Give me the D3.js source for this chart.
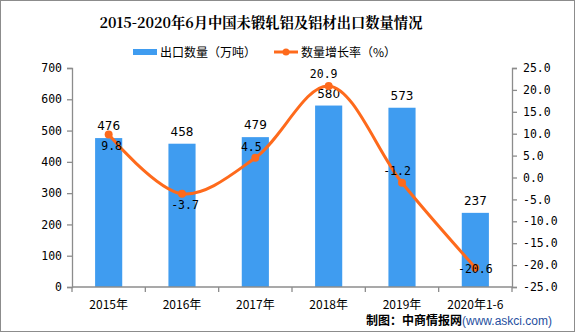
<!DOCTYPE html>
<html><head><meta charset="utf-8">
<script src="https://cdn.jsdelivr.net/npm/d3@7/dist/d3.min.js"></script>
<style>
html,body{margin:0;padding:0;background:#fff;}
svg{display:block;font-family:"Noto Sans CJK SC","DejaVu Sans",sans-serif;}
</style></head><body>
<svg id="c" width="576" height="333"></svg>
<script>
const categories = ["2015年","2016年","2017年","2018年","2019年","2020年1-6"];
const exportVolume = [476,458,479,580,573,237];
const growthRate = [9.8,-3.7,4.5,20.9,-1.2,-20.6];
const leftTicks = [0,100,200,300,400,500,600,700];
const rightTicks = [-25,-20,-15,-10,-5,0,5,10,15,20,25];
const rateLabelPlacement = ["below","below","aboveLeft","above","above","center"];

const svg = d3.select("#c");
const W = 576, H = 333;
const m = {l:72, r:64, t:68, b:46};
const x0 = m.l, x1 = W - m.r, y0 = H - m.b, y1 = m.t;

svg.append("rect").attr("x",0.5).attr("y",0.5).attr("width",574).attr("height",331)
  .attr("fill","#fff").attr("stroke","#8c8c8c").attr("stroke-width",1);

svg.append("text").attr("x",261).attr("y",28).attr("text-anchor","middle")
  .attr("font-size",14.3).attr("font-weight","bold").attr("fill","#000")
  .attr("font-family","'Noto Serif CJK SC','Noto Sans CJK SC',serif")
  .text("2015-2020年6月中国未锻轧铝及铝材出口数量情况");

// legend
const lg = svg.append("g").attr("font-size",12).attr("fill","#000");
lg.append("rect").attr("x",133).attr("y",49).attr("width",24).attr("height",6).attr("fill","#3f9cf0");
lg.append("text").attr("x",160).attr("y",57).text("出口数量（万吨）");
lg.append("line").attr("x1",274).attr("x2",298).attr("y1",52).attr("y2",52).attr("stroke","#fe6a1c").attr("stroke-width",3);
lg.append("circle").attr("cx",286).attr("cy",52).attr("r",3.5).attr("fill","#fe6a1c");
lg.append("text").attr("x",301).attr("y",57).text("数量增长率（%）");

const x = d3.scaleBand().domain(categories).range([x0,x1]).paddingInner(0.63).paddingOuter(0.315);
const xb = d3.scaleBand().domain(categories).range([x0,x1]);
const yL = d3.scaleLinear().domain([0,700]).range([y0,y1]);
const yR = d3.scaleLinear().domain([-25,25]).range([y0,y1]);

const axisColor = "#8c8c8c";
const gl = svg.append("g").attr("transform",`translate(${x0},0)`)
  .call(d3.axisLeft(yL).tickValues(leftTicks).tickSize(5).tickPadding(5).tickFormat(d3.format("d")));
const gr = svg.append("g").attr("transform",`translate(${x1},0)`)
  .call(d3.axisRight(yR).tickValues(rightTicks).tickSize(5).tickPadding(6).tickFormat(d=>d3.format(".1f")(d).replace("−","-")));
[gl,gr].forEach(g=>{
  g.select(".domain").attr("stroke",axisColor).attr("stroke-width",1.3);
  g.selectAll(".tick line").attr("stroke",axisColor).attr("stroke-width",1.3);
  g.selectAll("text").attr("fill","#000").attr("font-family","'DejaVu Sans Mono','Liberation Mono',monospace").attr("font-size",11.5);
});

// bars
svg.append("g").selectAll("rect").data(categories).join("rect")
  .attr("x",d=>x(d)).attr("width",x.bandwidth())
  .attr("y",(d,i)=>yL(exportVolume[i])).attr("height",(d,i)=>y0-yL(exportVolume[i]))
  .attr("fill","#3f9cf0");

// x axis
const gx = svg.append("g").attr("transform",`translate(0,${y0})`);
gx.append("line").attr("x1",x0).attr("x2",x1).attr("stroke",axisColor).attr("stroke-width",1.3);
const bounds = categories.map(c=>xb(c)).concat([x1]);
gx.selectAll("line.t").data(bounds).join("line").attr("class","t")
  .attr("x1",d=>d).attr("x2",d=>d).attr("y1",0).attr("y2",5).attr("stroke",axisColor).attr("stroke-width",1.3);
gx.selectAll("text").data(categories).join("text")
  .attr("x",d=>xb(d)+xb.bandwidth()/2).attr("y",22).attr("text-anchor","middle")
  .attr("font-size",12).attr("fill","#000").text(d=>d);

// bar labels
svg.append("g").selectAll("text").data(categories).join("text")
  .attr("x",d=>x(d)+x.bandwidth()/2).attr("y",(d,i)=>yL(exportVolume[i])-8)
  .attr("text-anchor","middle").attr("font-size",12).attr("fill","#000")
  .attr("font-family","'DejaVu Sans','Liberation Sans',sans-serif")
  .text((d,i)=>exportVolume[i]);

// line
const cx = d=>xb(d)+xb.bandwidth()/2;
const line = d3.line().x((d,i)=>cx(categories[i])).y(d=>yR(d)).curve(d3.curveCatmullRom.alpha(0.5));
svg.append("path").attr("d",line(growthRate)).attr("fill","none").attr("stroke","#fe6a1c").attr("stroke-width",3);
svg.append("g").selectAll("circle").data(growthRate).join("circle")
  .attr("cx",(d,i)=>cx(categories[i])).attr("cy",d=>yR(d)).attr("r",4).attr("fill","#fe6a1c");

const off = {below:[3,15], aboveLeft:[-4,-7], above:[-5,-8], center:[0,5]};
svg.append("g").selectAll("text").data(growthRate).join("text")
  .attr("x",(d,i)=>cx(categories[i])+off[rateLabelPlacement[i]][0])
  .attr("y",(d,i)=>yR(d)+off[rateLabelPlacement[i]][1])
  .attr("text-anchor","middle").attr("fill","#000")
  .attr("font-family","'DejaVu Sans Mono','Liberation Mono',monospace").attr("font-size",11.5)
  .text(d=>d3.format(".1f")(d).replace("−","-"));

// source
const src = svg.append("text").attr("x",552).attr("y",325).attr("text-anchor","end").attr("font-size",12);
src.append("tspan").attr("font-weight","bold").attr("fill","#000").text("制图：中商情报网");
src.append("tspan").attr("fill","#1f4fa0").attr("font-family","'Liberation Sans',sans-serif").attr("font-size",12).text("(www.askci.com)");
</script>
</body></html>
